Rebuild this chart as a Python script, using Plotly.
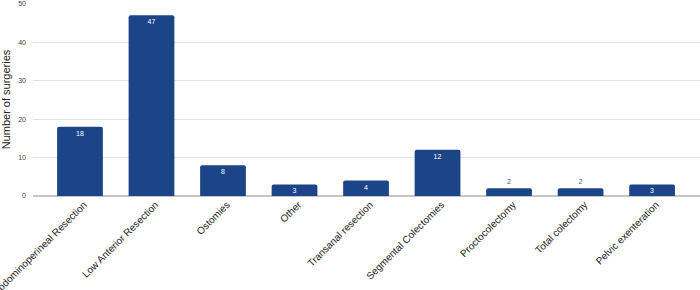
import plotly.graph_objects as go

categories = ["Abdominoperineal Resection", "Low Anterior Resection", "Ostomies", "Other",
              "Transanal resection", "Segmental Colectomies", "Proctocolectomy",
              "Total colectomy", "Pelvic exenteration"]
values = [18, 47, 8, 3, 4, 12, 2, 2, 3]

positions = ["inside" if v > 2 else "outside" for v in values]
text_colors = ["#ffffff" if v > 2 else "#3c5a99" for v in values]

fig = go.Figure(go.Bar(
    x=categories, y=values, text=[str(v) for v in values],
    textposition=positions, insidetextanchor="end", textangle=0, constraintext="none",
    textfont=dict(size=7, color=text_colors, family="Arial"),
    marker=dict(color="#1c4587", line=dict(width=0)),
    width=0.64, cliponaxis=False, hoverinfo="skip",
))
fig.update_layout(
    width=700, height=290, margin=dict(l=33, r=0, t=3, b=94),
    plot_bgcolor="white", paper_bgcolor="white", showlegend=False,
    barcornerradius=2,
    font=dict(family="Arial, Liberation Sans, sans-serif"),
    xaxis=dict(range=[-0.657, 8.67], tickangle=-45, tickfont=dict(size=10, color="#222222"),
               showgrid=False, ticks="", automargin=False, showline=False, ticklabelshift=4),
    yaxis=dict(range=[0, 50.2], tickvals=[0, 10, 20, 30, 40, 50], tickfont=dict(size=7, color="#444444"),
               gridcolor="#e3e3e3", gridwidth=1, zeroline=True, zerolinecolor="#c4c4c4",
               zerolinewidth=2, automargin=False, ticks="", ticklabelstandoff=6,
               title=dict(text="Number of surgeries", font=dict(size=11, color="#222222"), standoff=10)),
)
fig.write_html("out.html", config={"displayModeBar": False},
               post_script="document.body.style.margin='0px';")
